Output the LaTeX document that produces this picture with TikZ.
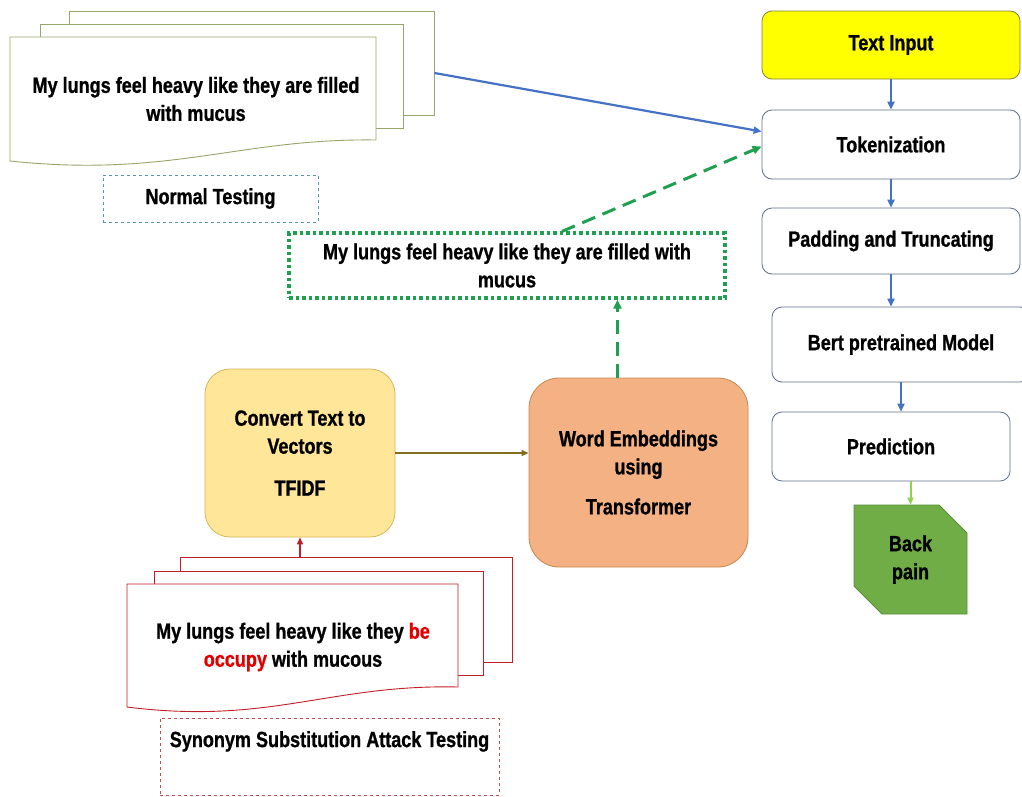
\documentclass[tikz,border=0pt]{standalone}
\usepackage{fontspec}
\setmainfont{Liberation Sans}[FakeStretch=0.82, BoldFeatures={FakeBold=0.9}]
\usetikzlibrary{arrows.meta,shapes.misc}
\definecolor{flowborder}{RGB}{95,110,135}
\definecolor{tiborder}{RGB}{130,130,60}
\definecolor{tiyellow}{RGB}{255,255,0}
\definecolor{barrowc}{RGB}{68,114,196}
\definecolor{gdash}{RGB}{30,160,80}
\definecolor{lgreen}{RGB}{146,208,80}
\definecolor{bpfill}{RGB}{112,173,71}
\definecolor{bpborder}{RGB}{90,140,55}
\definecolor{convfill}{RGB}{255,230,153}
\definecolor{convborder}{RGB}{214,182,86}
\definecolor{wefill}{RGB}{244,177,131}
\definecolor{weborder}{RGB}{200,135,80}
\definecolor{olivearrow}{RGB}{130,110,30}
\definecolor{redborder}{RGB}{192,30,40}
\definecolor{redtext}{RGB}{225,0,0}
\definecolor{synborder}{RGB}{190,80,77}
\definecolor{ntborder}{RGB}{90,150,160}
\definecolor{gsheet}{RGB}{150,165,105}
\begin{document}
\begin{tikzpicture}[x=1pt,y=-1pt,
  txt/.style={font=\fontsize{22}{28}\selectfont\bfseries, align=center, text=black},
  flowbox/.style={draw=flowborder, line width=0.8pt, rounded corners=10pt, fill=white, inner sep=0pt, txt},
  sheetg/.style={draw=gsheet, line width=0.9pt, fill=white, inner sep=0pt},
  sheetr/.style={draw=redborder, line width=0.9pt, fill=white, inner sep=0pt},
  barrow/.style={draw=barrowc, line width=2.2pt, -{Triangle[length=8pt,width=7pt]}},
  garrow/.style={draw=gdash, line width=3pt, dash pattern=on 14pt off 8pt, -{Triangle[length=9pt,width=8pt]}},
]
\useasboundingbox (0,0) rectangle (1022,796);

% ---------- right column ----------
\node[flowbox, draw=tiborder, fill=tiyellow, minimum width=258pt, minimum height=68pt] (ti) at (891,45) {Text Input};
\node[flowbox, minimum width=258pt, minimum height=69pt] (tok) at (891,144.5) {Tokenization};
\node[flowbox, minimum width=258pt, minimum height=66pt] (pad) at (891,241) {Padding and Truncating};
\node[flowbox, minimum width=258pt, minimum height=75pt] (bert) at (901,344.5) {Bert pretrained Model};
\node[flowbox, minimum width=238pt, minimum height=69pt] (pred) at (891,446.5) {Prediction};
\node[chamfered rectangle, chamfered rectangle corners={north east,south west},
      chamfered rectangle xsep=12pt, chamfered rectangle ysep=16pt,
      draw=bpborder, fill=bpfill, line width=0.8pt, minimum width=113pt, minimum height=109pt,
      inner sep=0pt, txt] (bp) at (910.5,559.5) {Back\\pain};

\draw[barrow] (ti) -- (tok);
\draw[barrow] (tok) -- (pad);
\draw[barrow] (pad.south) -- (pad.south |- bert.north);
\draw[barrow] (bert.south) -- (bert.south |- pred.north);
\draw[draw=lgreen, line width=2pt, -{Triangle[length=7pt,width=6pt]}] (pred.south -| bp.north) -- (bp.north);

% ---------- normal testing stack ----------
\node[sheetg, minimum width=365pt, minimum height=104pt] (gback) at (251.5,63) {};
\node[sheetg, minimum width=363pt, minimum height=104pt] (gmid) at (221.5,76) {};
\draw[draw=gsheet, line width=0.9pt, fill=white]
  (10,37) -- (376,37) -- (376,140) .. controls (240,138) and (170,178) .. (10,161) -- cycle;
\node[txt] (gtext) at (196,99) {My lungs feel heavy like they are filled\\with mucus};
\node[draw=ntborder, dashed, line width=0.8pt, minimum width=215pt, minimum height=47pt, inner sep=0pt, txt] (nt) at (210.5,198.5) {Normal Testing};

\draw[barrow] ([yshift=-10pt]gback.east) -- ([yshift=13pt]tok.west);

% ---------- green dotted box ----------
\node[draw=gdash, line width=3.2pt, dash pattern=on 3.5pt off 3pt, minimum width=436pt, minimum height=65pt, inner sep=0pt, txt] (gbox) at (507,265.5) {My lungs feel heavy like they are filled with\\mucus};
\draw[garrow] ([xshift=55pt]gbox.north) -- ([yshift=-2pt]tok.west);

% ---------- convert & embeddings ----------
\node[draw=convborder, fill=convfill, line width=0.8pt, rounded corners=25pt, minimum width=190pt, minimum height=168pt, inner sep=0pt, txt] (conv) at (300,453) {Convert Text to\\Vectors\\[14pt]TFIDF};
\node[draw=weborder, fill=wefill, line width=0.8pt, rounded corners=30pt, minimum width=219pt, minimum height=189pt, inner sep=0pt, txt] (we) at (638.5,472.5) {Word Embeddings\\using\\[12pt]Transformer};
\draw[draw=olivearrow, line width=1.4pt, -{Triangle[length=7pt,width=6pt]}] (conv.east) -- (we.west |- conv.east);
\draw[garrow] ([xshift=-21pt]we.north) -- ([xshift=-21pt]we.north |- gbox.south);

% ---------- attack stack ----------
\node[sheetr, minimum width=332pt, minimum height=105pt] (rback) at (346,609.5) {};
\node[sheetr, minimum width=329pt, minimum height=104pt] (rmid) at (318.5,623) {};
\draw[draw=redborder, line width=0.9pt, fill=white]
  (127,584) -- (458,584) -- (458,687) .. controls (330,684) and (270,725) .. (127,707) -- cycle;
\node[txt] (rtext) at (293,647) {My lungs feel heavy like they \textcolor{redtext}{be}\\\textcolor{redtext}{occupy} with mucous};
\draw[draw=redborder, line width=1.2pt, -{Triangle[length=7pt,width=6pt]}] (conv.south |- rback.north) -- (conv.south);

\node[draw=synborder, dashed, line width=0.8pt, minimum width=339pt, minimum height=77pt, inner sep=0pt] (syn) at (329.5,756.5) {};
\node[txt, anchor=north] (synt) at ([yshift=-10pt]syn.north) {Synonym Substitution Attack Testing};
\end{tikzpicture}
\end{document}
